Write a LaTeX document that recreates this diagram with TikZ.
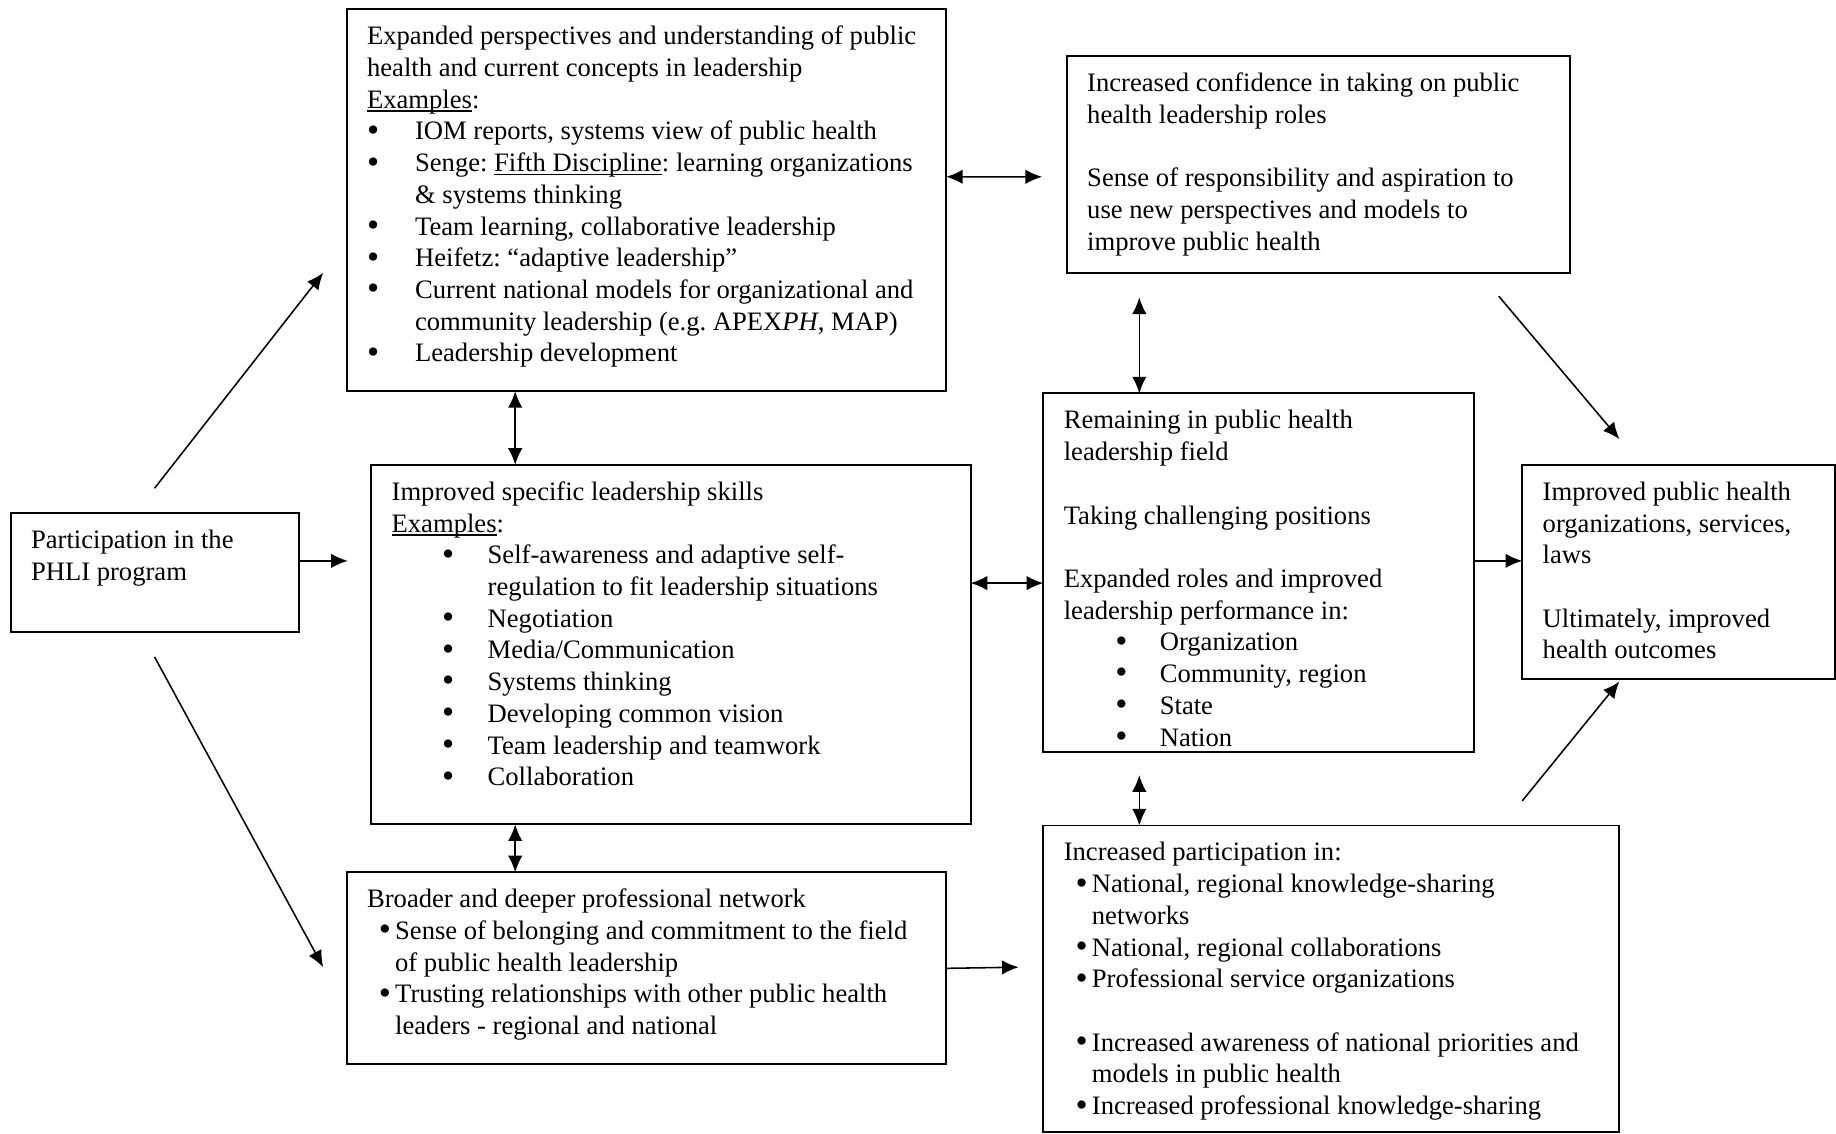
\documentclass[tikz,border=0pt]{standalone}
\usepackage{fontspec}
\setmainfont{Liberation Serif}
\usetikzlibrary{arrows.meta}
\frenchspacing
\newlength\upx
\setlength\upx{0.528pt}
\newcommand\boxtxt[3]{\parbox[c][\dimexpr#2\upx-10pt\relax][t]{\dimexpr#1\upx-35\upx\relax}{\raggedright\rule{0pt}{11pt}#3}}
\newcommand\bl[3]{\hspace*{#1\upx}\makebox[\dimexpr#2\upx-#1\upx\relax][l]{\raisebox{-0.6pt}{\scalebox{1.3}{\textbullet}}}#3}
\newcommand\cont[2]{\hspace*{#1\upx}#2}
\newcommand\undl[1]{\leavevmode\setbox0\hbox{#1}\rlap{\rule[-1.6pt]{\wd0}{0.6pt}}\box0}
\begin{document}
\begin{tikzpicture}[x=0.528pt,y=-0.528pt]
    \tikzstyle{box}=[draw, line width=0.9pt, anchor=north west, outer sep=0pt,
      inner xsep=9.24pt, inner ysep=5pt, font=\fontsize{12pt}{14.3pt}\selectfont]
    \tikzstyle{arr}=[line width=0.7pt, -{Latex[length=7.5pt,width=6.5pt]}]
    \tikzstyle{darr}=[line width=0.7pt, {Latex[length=7.5pt,width=6.5pt]}-{Latex[length=7.5pt,width=6.5pt]}]
    \useasboundingbox (0,0) rectangle (1568,968);
    \node[box] (phli) at (9,438) {\boxtxt{246}{102}{Participation in the\\
      PHLI program}};
    \node[box] (persp) at (296,8) {\boxtxt{512}{326}{Expanded perspectives and understanding of public\\
      health and current concepts in leadership\\
      \undl{Examples}:\\
      \bl{0}{41}{IOM reports, systems view of public health}\\
      \bl{0}{41}{Senge: \undl{Fifth Discipline}: learning organizations}\\
      \cont{41}{\& systems thinking}\\
      \bl{0}{41}{Team learning, collaborative leadership}\\
      \bl{0}{41}{Heifetz: “adaptive leadership”}\\
      \bl{0}{41}{Current national models for organizational and}\\
      \cont{41}{community leadership (e.g. APEX\textit{PH}, MAP)}\\
      \bl{0}{41}{Leadership development}}};
    \node[box] (skills) at (317,397) {\boxtxt{512}{307}{Improved specific leadership skills\\
      \undl{Examples}:\\
      \bl{43}{82}{Self-awareness and adaptive self-}\\
      \cont{82}{regulation to fit leadership situations}\\
      \bl{43}{82}{Negotiation}\\
      \bl{43}{82}{Media/Communication}\\
      \bl{43}{82}{Systems thinking}\\
      \bl{43}{82}{Developing common vision}\\
      \bl{43}{82}{Team leadership and teamwork}\\
      \bl{43}{82}{Collaboration}}};
    \node[box] (network) at (296,745) {\boxtxt{512}{164}{Broader and deeper professional network\\
      \bl{10}{24}{Sense of belonging and commitment to the field}\\
      \cont{24}{of public health leadership}\\
      \bl{10}{24}{Trusting relationships with other public health}\\
      \cont{24}{leaders - regional and national}}};
    \node[box] (confid) at (911,48) {\boxtxt{430}{185}{Increased confidence in taking on public\\
      health leadership roles\\[\baselineskip]
      Sense of responsibility and aspiration to\\
      use new perspectives and models to\\
      improve public health}};
    \node[box] (remain) at (891,336) {\boxtxt{368}{306}{Remaining in public health\\
      leadership field\\[\baselineskip]
      Taking challenging positions\\[\baselineskip]
      Expanded roles and improved\\
      leadership performance in:\\
      \bl{44}{82}{Organization}\\
      \bl{44}{82}{Community, region}\\
      \bl{44}{82}{State}\\
      \bl{44}{82}{Nation}}};
    \node[box] (particip) at (891,705) {\boxtxt{492}{262}{Increased participation in:\\
      \bl{10}{24}{National, regional knowledge-sharing}\\
      \cont{24}{networks}\\
      \bl{10}{24}{National, regional collaborations}\\
      \bl{10}{24}{Professional service organizations}\\[\baselineskip]
      \bl{10}{24}{Increased awareness of national priorities and}\\
      \cont{24}{models in public health}\\
      \bl{10}{24}{Increased professional knowledge-sharing}}};
    \node[box] (outcome) at (1300,397) {\boxtxt{267}{183}{Improved public health\\
      organizations, services,\\
      laws\\[\baselineskip]
      Ultimately, improved\\
      health outcomes}};
    \draw[arr] ([shift={(123,-21)}]phli.north west) -- ([shift={(-20,-101)}]persp.south west);
    \draw[arr] ([shift={(0,-10)}]phli.east) -- ([shift={(-20,-71.5)}]skills.west);
    \draw[arr] ([shift={(123,21)}]phli.south west) -- ([shift={(-20,81)}]network.north west);
    \draw[darr] ([shift={(144,0)}]persp.south west) -- ([shift={(123,0)}]skills.north west);
    \draw[darr] ([shift={(123,0)}]skills.south west) -- ([shift={(144,0)}]network.north west);
    \draw[darr] ([shift={(0,-20)}]persp.east) -- ([shift={(-21,10.5)}]confid.west);
    \draw[darr] ([shift={(0,-52.5)}]skills.east) -- ([shift={(0,9)}]remain.west);
    \draw[darr] ([shift={(62,21)}]confid.south west) -- ([shift={(82,0)}]remain.north west);
    \draw[darr] ([shift={(82,20)}]remain.south west) -- ([shift={(82,0)}]particip.north west);
    \draw[arr] (network.east) -- ([shift={(-21,-10)}]particip.west);
    \draw[arr] ([shift={(-61,20)}]confid.south east) -- ([shift={(83,-22)}]outcome.north west);
    \draw[arr] ([shift={(0,-10)}]remain.east) -- ([shift={(0,-9.5)}]outcome.west);
    \draw[arr] ([shift={(-83,-21)}]particip.north east) -- ([shift={(83,2)}]outcome.south west);
\end{tikzpicture}
\end{document}
